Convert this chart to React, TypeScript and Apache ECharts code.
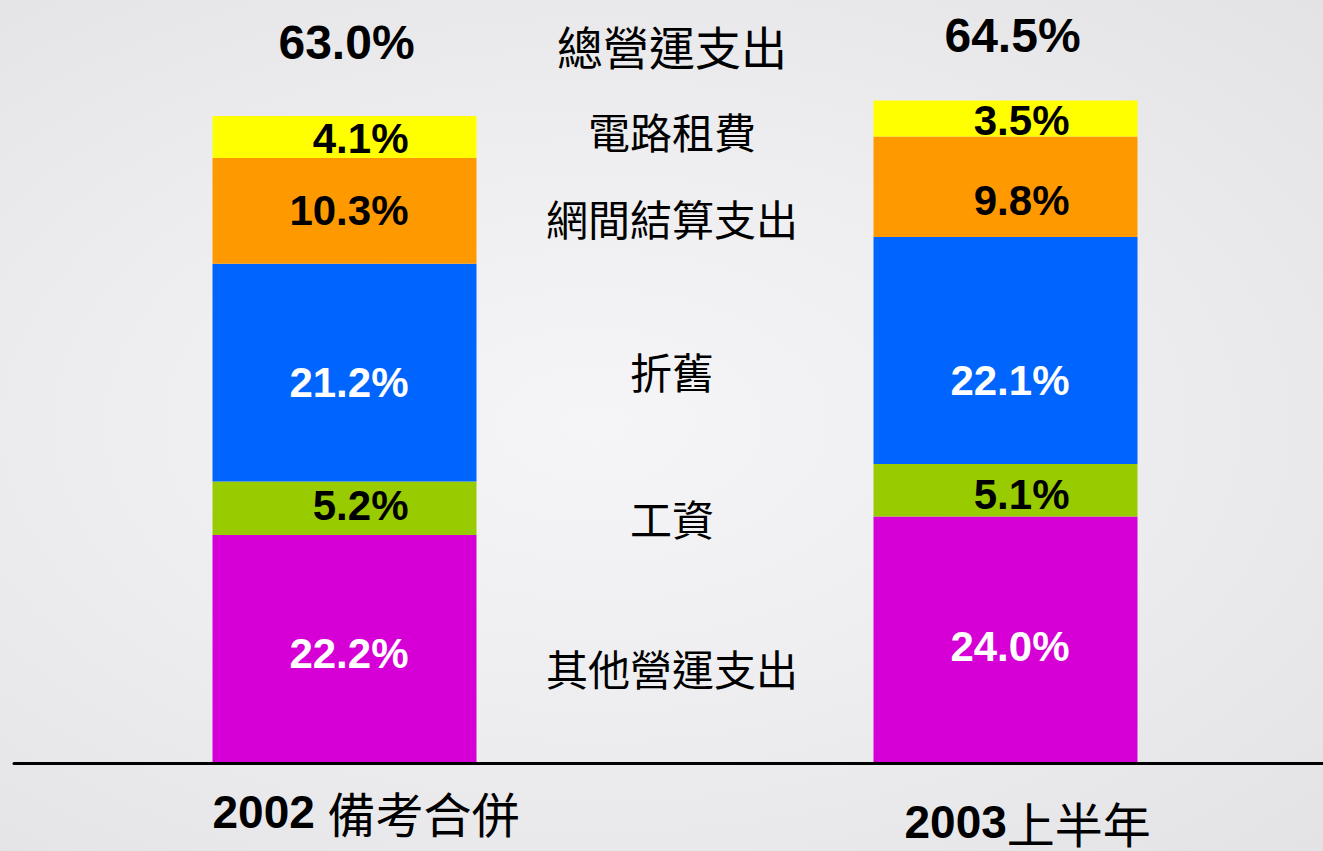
import { useEffect, useRef } from "react";
import * as echarts from "echarts";

// ---- data ----
const categories = ["2002 備考合併", "2003上半年"];
const totalName = "總營運支出";
const otherOpsName = "其他營運支出";
const wagesName = "工資";
const depreciationName = "折舊";
const interconnectName = "網間結算支出";
const leasedLineName = "電路租費";

const otherOps = [22.2, 24.0];
const wages = [5.2, 5.1];
const depreciation = [21.2, 22.1];
const interconnect = [10.3, 9.8];
const leasedLine = [4.1, 3.5];
const totals = [63.0, 64.5];

// ---- style / layout ----
const NUM_FONT = "'Liberation Sans', Arial, sans-serif";
const CJK_FONT = "'Noto Sans CJK TC', 'Noto Sans CJK SC', sans-serif";

const seriesDefs = [
  { name: otherOpsName, data: otherOps, color: "#D600D6", text: "#ffffff", dy: [5, 7] },
  { name: wagesName, data: wages, color: "#99CC00", text: "#000000", dy: [-3, 4] },
  { name: depreciationName, data: depreciation, color: "#0064FF", text: "#ffffff", dy: [10, 30] },
  { name: interconnectName, data: interconnect, color: "#FF9900", text: "#000000", dy: [0, 14] },
  { name: leasedLineName, data: leasedLine, color: "#FFFF00", text: "#000000", dy: [2, 2] },
];

// vertical centre of each middle caption
const captionY: Record<string, number> = {
  [totalName]: 45,
  [leasedLineName]: 130,
  [interconnectName]: 217,
  [depreciationName]: 370,
  [wagesName]: 517,
  [otherOpsName]: 667,
};
const captionSize: Record<string, number> = { [totalName]: 46 };

const totalOffsets = [
  [2, 42],
  [7, 35],
];
const catLabelPos = [
  [-132, 812],
  [-101, 822],
];

export default function App() {
  const ref = useRef<HTMLDivElement>(null);

  useEffect(() => {
    if (!ref.current) return;
    const chart = echarts.init(ref.current, undefined, { renderer: "svg" });

    const series: any[] = seriesDefs.map((s) => ({
      name: s.name,
      type: "bar",
      stack: "total",
      barWidth: 264,
      data: s.data.map((v, i) => ({
        value: v,
        label: { offset: [64, s.dy[i]] },
      })),
      itemStyle: { color: s.color },
      label: {
        show: true,
        position: "inside",
        align: "right",
        verticalAlign: "middle",
        color: s.text,
        fontFamily: NUM_FONT,
        fontWeight: "bold",
        fontSize: 42,
        formatter: (p: any) => p.value.toFixed(1) + "%",
      },
      emphasis: { disabled: true },
    }));

    const captions = [totalName, leasedLineName, interconnectName, depreciationName, wagesName, otherOpsName].map(
      (n) => ({
        type: "text",
        x: 672,
        y: captionY[n],
        style: {
          text: n,
          fill: "#000",
          font: `normal ${captionSize[n] || 42}px ${CJK_FONT}`,
          textAlign: "center",
          textVerticalAlign: "middle",
        },
        silent: true,
      })
    );

    const baseOption: any = {
      animation: false,
      backgroundColor: "transparent",
      grid: { left: 14, width: 1322, top: 44, height: 719, containLabel: false, outerBoundsMode: "none" },
      xAxis: {
        type: "category",
        data: categories,
        axisTick: { show: false },
        axisLabel: { show: false },
        axisLine: {
          show: true,
          onZero: false,
          lineStyle: { color: "#000", width: 3 },
        },
        splitLine: { show: false },
        z: 5,
      },
      yAxis: { type: "value", min: 0, max: 70, show: false },
      series,
      graphic: captions,
    };
    chart.setOption(baseOption);

    const extra: any[] = [];
    categories.forEach((c, i) => {
      const px = chart.convertToPixel({ xAxisIndex: 0 }, c as any) as number;
      extra.push({
        type: "text",
        x: px + totalOffsets[i][0],
        y: totalOffsets[i][1],
        style: {
          text: totals[i].toFixed(1) + "%",
          fill: "#000",
          font: `bold 48px ${NUM_FONT}`,
          textAlign: "center",
          textVerticalAlign: "middle",
        },
        silent: true,
      });
      const m = c.match(/^(\d+)(\s*)(.*)$/);
      const yr = m ? m[1] : c;
      const sp = m ? m[2] : "";
      const rest = m ? m[3] : "";
      extra.push({
        type: "text",
        x: px + catLabelPos[i][0],
        y: catLabelPos[i][1],
        style: {
          text: `{y|${yr}}${sp ? "{s| }" : ""}{c|${rest}}`,
          textAlign: "left",
          textVerticalAlign: "middle",
          rich: {
            y: { fontFamily: NUM_FONT, fontWeight: "bold", fontSize: 46, lineHeight: 46, fill: "#000", color: "#000" },
            s: { fontFamily: NUM_FONT, fontSize: 46, lineHeight: 46, fill: "#000", color: "#000" },
            c: { fontFamily: CJK_FONT, fontWeight: "normal", fontSize: 48, lineHeight: 48, fill: "#000", color: "#000" },
          },
        },
        silent: true,
      });
    });
    chart.setOption({ graphic: [...captions, ...extra] });

    return () => chart.dispose();
  }, []);

  return (
    <div
      style={{
        position: "absolute",
        left: 0,
        top: 0,
        width: 1323,
        height: 851,
        overflow: "hidden",
        background:
          "radial-gradient(ellipse at 45% 50%, #f5f5f7 0%, #eeeef0 45%, #e3e3e5 100%)",
      }}
    >
      <div ref={ref} style={{ width: 1323, height: 851 }} />
    </div>
  );
}
